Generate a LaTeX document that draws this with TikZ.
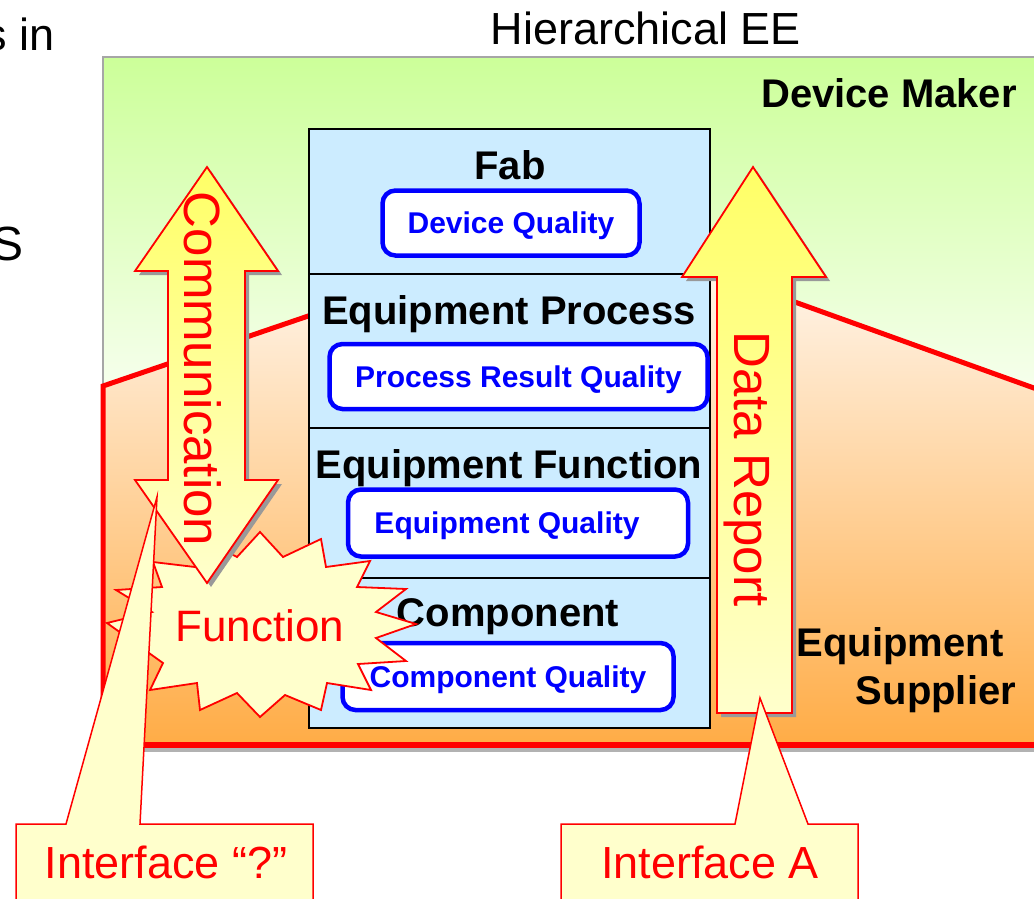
\documentclass[tikz,border=0pt]{standalone}
\usepackage{fontspec}
\setmainfont{Liberation Sans}
\usetikzlibrary{positioning, shadows}
\definecolor{layerblue}{RGB}{204,236,255}
\definecolor{paleyellow}{RGB}{255,255,204}
\definecolor{arrowyellow}{RGB}{255,255,102}
\definecolor{makergreen}{RGB}{204,255,153}
\definecolor{supplierpale}{RGB}{255,252,250}
\definecolor{supplierpeach}{RGB}{255,230,208}
\definecolor{supplierorange}{RGB}{255,172,70}

\begin{document}
\begin{tikzpicture}[x=1pt, y=-1pt,
    layerbox/.style={draw=black, line width=2pt, fill=layerblue, minimum width=401pt, inner sep=0pt},
    layertitle/.style={font=\fontsize{40}{44}\selectfont\bfseries, text depth=0pt},
    qualitybox/.style={draw=blue, line width=4.5pt, fill=white, rounded corners=13pt, text=blue, text depth=0pt, inner sep=0pt, font=\fontsize{30}{34}\selectfont\bfseries},
    blockarrow/.style={draw=red, line width=1.8pt, top color=arrowyellow, bottom color=paleyellow, drop shadow={shadow xshift=4pt, shadow yshift=-4pt, fill=gray!80, opacity=1}},
    arrowtext/.style={text=red, rotate=-90, text depth=0pt, font=\fontsize{51}{56}\selectfont},
    calloutbox/.style={draw=red, line width=1.5pt, fill=paleyellow},
    callouttext/.style={text=red, text depth=0pt, font=\fontsize{45}{50}\selectfont},
    roletext/.style={font=\fontsize{40}{44}\selectfont\bfseries, text depth=0pt}]
    \useasboundingbox (0,0) rectangle (1034,898);

    \node[anchor=base east, font=\fontsize{45}{50}\selectfont] (cut1) at (58,50) {s in};
    \node[anchor=base east, font=\fontsize{48}{52}\selectfont] (cut2) at (27,260) {S};
    \node[font=\fontsize{45}{50}\selectfont, text depth=0pt] (head) at (646,28) {Hierarchical EE};

    \shade[top color=makergreen, bottom color=white] (103,57) rectangle (1045,460);
    \draw[gray!70, line width=2pt] (103,390) -- (103,57) -- (1045,57);
    \draw[red, line width=5pt, top color=supplierpale, middle color=supplierpeach, bottom color=supplierorange] (103,745) -- (103,386) -- (578,224) -- (1045,392) -- (1045,745) -- cycle;
    \draw[gray!60, line width=4pt] (106,750) -- (1045,750);
    \draw[red, line width=6pt] (100.5,745) -- (1045,745);

    \node[roletext] (maker) at (889,93) {Device Maker};
    \node[roletext] (supplier1) at (900,642) {Equipment};
    \node[roletext] (supplier2) at (936,690) {Supplier};

    \node[layerbox, minimum height=145pt] (fab) at (509.5,201.5) {};
    \node[layerbox, minimum height=154pt] (eqproc) at (509.5,351) {};
    \node[layerbox, minimum height=150pt] (eqfunc) at (509.5,503) {};
    \node[layerbox, minimum height=150pt] (comp) at (509.5,653) {};

    \node[layertitle] (fabt) at (510,165) {Fab};
    \node[layertitle] (eqproct) at (509,310) {Equipment Process};
    \node[layertitle] (eqfunct) at (509,464) {Equipment Function};
    \node[layertitle] (compt) at (508,613) {Component};

    \node[qualitybox, minimum width=257pt, minimum height=65pt] (devq) at (511,223) {Device Quality};
    \node[qualitybox, minimum width=378pt, minimum height=65pt] (procq) at (518.5,376.5) {Process Result Quality};
    \node[qualitybox, minimum width=340pt, minimum height=67pt] (equipq) at (518,523) {\hspace{-22pt}Equipment Quality};
    \node[qualitybox, minimum width=331pt, minimum height=67pt] (compq) at (508,676.5) {Component Quality};

    \draw[blockarrow] (753,167) -- (826,277) -- (792,277) -- (792,713) -- (717,713) -- (717,277) -- (682,277) -- cycle;
    \node[arrowtext] (report) at (752,469) {Data Report};

    \draw[draw=red, line width=1.8pt, fill=paleyellow] (260,532) -- (283,557) -- (321,539) -- (326,567) -- (370,561) -- (357,587) -- (406,589) -- (376,612) -- (416,624) -- (376,638) -- (406,661) -- (358,664) -- (371,690) -- (327,683) -- (321,710) -- (285,695) -- (260,717) -- (237,693) -- (200,710) -- (197,683) -- (150,690) -- (163,663) -- (107,623) -- (152,612) -- (116,590) -- (162,587) -- (153,562) -- (195,567) -- (205,540) -- (237,557) -- cycle;
    \node[callouttext, font=\fontsize{44}{48}\selectfont] (func) at (260,626) {Function};

    \draw[blockarrow] (207,167) -- (278,271) -- (245,271) -- (245,480) -- (278,480) -- (207,583) -- (135,480) -- (168,480) -- (168,271) -- (135,271) -- cycle;
    \node[arrowtext] (comm) at (203,369) {Communication};

    \coordinate (qtip) at (157,497);
    \coordinate (atip) at (760,698);
    \draw[calloutbox] (16,905) -- (16,824) -- (66,824) -- (qtip) -- (140,824) -- (313,824) -- (313,905) -- cycle;
    \node[callouttext] (ifq) at (166,862) {Interface “?”};
    \draw[calloutbox] (561,905) -- (561,824) -- (735,824) -- (atip) -- (808,824) -- (858,824) -- (858,905) -- cycle;
    \node[callouttext] (ifa) at (710,862) {Interface A};
\end{tikzpicture}
\end{document}
